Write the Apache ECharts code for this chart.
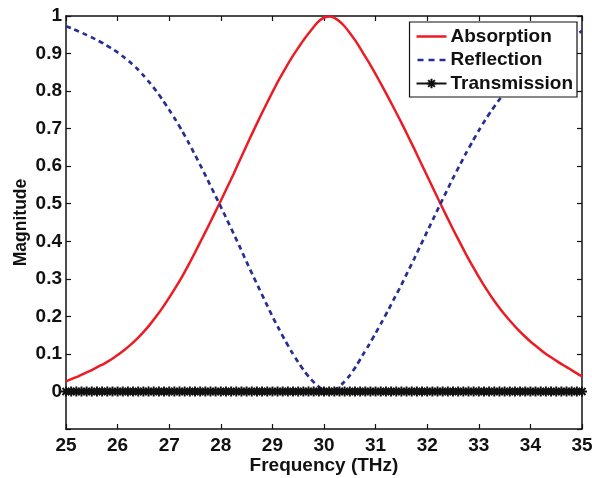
<!DOCTYPE html>
<html>
<head>
<meta charset="utf-8">
<script src="https://cdn.jsdelivr.net/npm/echarts@6/dist/echarts.min.js"></script>
<style>
html,body{margin:0;padding:0;background:#fff;}
#chart{width:592px;height:478px;}
</style>
</head>
<body>
<div id="chart"></div>
<script>
// Frequencies (THz) for absorption / reflection curves
var freqAR = [25.000,25.125,25.250,25.375,25.500,25.625,25.750,25.875,26.000,26.125,26.250,26.375,26.500,26.625,26.750,26.875,27.000,27.125,27.250,27.375,27.500,27.625,27.750,27.875,28.000,28.125,28.250,28.375,28.500,28.625,28.750,28.875,29.000,29.125,29.250,29.375,29.500,29.625,29.750,29.875,30.000,30.125,30.250,30.375,30.500,30.625,30.750,30.875,31.000,31.125,31.250,31.375,31.500,31.625,31.750,31.875,32.000,32.125,32.250,32.375,32.500,32.625,32.750,32.875,33.000,33.125,33.250,33.375,33.500,33.625,33.750,33.875,34.000,34.125,34.250,34.375,34.500,34.625,34.750,34.875,35.000];
var absorption = [0.027,0.034,0.041,0.049,0.057,0.066,0.075,0.085,0.097,0.110,0.124,0.140,0.158,0.178,0.200,0.224,0.250,0.277,0.306,0.337,0.370,0.404,0.438,0.473,0.508,0.544,0.580,0.618,0.655,0.692,0.728,0.763,0.797,0.830,0.860,0.889,0.915,0.940,0.962,0.983,0.996,0.999,0.991,0.976,0.955,0.931,0.903,0.875,0.845,0.814,0.782,0.749,0.716,0.681,0.646,0.610,0.574,0.538,0.502,0.467,0.432,0.399,0.366,0.335,0.305,0.277,0.251,0.227,0.205,0.185,0.166,0.149,0.133,0.119,0.105,0.093,0.082,0.071,0.061,0.050,0.040];
var reflection = [0.973,0.966,0.959,0.951,0.943,0.934,0.925,0.914,0.903,0.890,0.876,0.860,0.842,0.822,0.800,0.776,0.750,0.723,0.694,0.663,0.630,0.597,0.562,0.527,0.492,0.456,0.420,0.383,0.345,0.308,0.272,0.236,0.200,0.167,0.135,0.105,0.078,0.053,0.032,0.015,0.004,0.001,0.008,0.023,0.043,0.068,0.097,0.125,0.155,0.186,0.218,0.251,0.284,0.319,0.354,0.390,0.426,0.462,0.498,0.533,0.568,0.601,0.634,0.665,0.695,0.723,0.749,0.773,0.795,0.815,0.834,0.851,0.867,0.881,0.895,0.907,0.918,0.929,0.939,0.950,0.960];
// Frequencies (THz) for transmission samples
var freqT = [25.0,25.1,25.2,25.3,25.4,25.5,25.6,25.7,25.8,25.9,26.0,26.1,26.2,26.3,26.4,26.5,26.6,26.7,26.8,26.9,27.0,27.1,27.2,27.3,27.4,27.5,27.6,27.7,27.8,27.9,28.0,28.1,28.2,28.3,28.4,28.5,28.6,28.7,28.8,28.9,29.0,29.1,29.2,29.3,29.4,29.5,29.6,29.7,29.8,29.9,30.0,30.1,30.2,30.3,30.4,30.5,30.6,30.7,30.8,30.9,31.0,31.1,31.2,31.3,31.4,31.5,31.6,31.7,31.8,31.9,32.0,32.1,32.2,32.3,32.4,32.5,32.6,32.7,32.8,32.9,33.0,33.1,33.2,33.3,33.4,33.5,33.6,33.7,33.8,33.9,34.0,34.1,34.2,34.3,34.4,34.5,34.6,34.7,34.8,34.9,35.0];
var transmission = [0,0,0,0,0,0,0,0,0,0,0,0,0,0,0,0,0,0,0,0,0,0,0,0,0,0,0,0,0,0,0,0,0,0,0,0,0,0,0,0,0,0,0,0,0,0,0,0,0,0,0,0,0,0,0,0,0,0,0,0,0,0,0,0,0,0,0,0,0,0,0,0,0,0,0,0,0,0,0,0,0,0,0,0,0,0,0,0,0,0,0,0,0,0,0,0,0,0,0,0,0];
var seriesNames = ['Absorption','Reflection','Transmission'];
var xTicks = {min:25, max:35, interval:1};
var yTicks = {min:-0.1, max:1, interval:0.1};

function pairs(xs, ys){ return xs.map(function(x,i){ return [x, ys[i]]; }); }

var FONT = 'Liberation Sans, Arial, Helvetica, sans-serif';
var asterisk = 'path://M5,0L5,10M0,5L10,5M1.5,1.5L8.5,8.5M1.5,8.5L8.5,1.5';
var iconSolid = 'path://M0,0h0.01v0.01h-0.01z M0,4.75h30v2.5h-30z M29.99,11.99h0.01v0.01h-0.01z';
var iconDash = 'path://M0,0h0.01v0.01h-0.01z M1,4.7h6v2.6h-6z M12,4.7h6v2.6h-6z M23,4.7h6v2.6h-6z M29.99,11.99h0.01v0.01h-0.01z';

var chart = echarts.init(document.getElementById('chart'), null, {renderer:'canvas'});
var axisLine = {show:true, onZero:false, lineStyle:{color:'#111', width:1.5}};
var tick = {show:true, inside:true, length:5, lineStyle:{color:'#111', width:1.2}};
var option = {
  backgroundColor:'#fff',
  animation:false,
  grid:{left:66, right:10, top:16, bottom:49, containLabel:false, outerBoundsMode:'none'},
  legend:{
    orient:'vertical', right:15, top:22,
    data:[{name:seriesNames[0], icon:iconSolid},{name:seriesNames[1], icon:iconDash},{name:seriesNames[2]}],
    backgroundColor:'#fff', borderColor:'#111', borderWidth:1.2,
    padding:[5,4,4,6],
    itemWidth:30, itemHeight:12, itemGap:4.5,
    textStyle:{fontFamily:FONT, fontWeight:'bold', fontSize:19, color:'#111', padding:[0,0,0,-1]}
  },
  xAxis:[{
    type:'value', min:xTicks.min, max:xTicks.max, interval:xTicks.interval,
    name:'Frequency (THz)', nameLocation:'middle', nameGap:27, nameMoveOverlap:false,
    nameTextStyle:{fontFamily:FONT, fontWeight:'bold', fontSize:19, color:'#111'},
    axisLine:axisLine, axisTick:tick, splitLine:{show:false},
    axisLabel:{fontFamily:FONT, fontWeight:'bold', fontSize:19, color:'#111', margin:7}
  },{
    type:'value', position:'top', min:xTicks.min, max:xTicks.max, interval:xTicks.interval,
    axisLine:axisLine, axisTick:tick, splitLine:{show:false}, axisLabel:{show:false}
  }],
  yAxis:[{
    type:'value', min:yTicks.min, max:yTicks.max, interval:yTicks.interval,
    name:'Magnitude', nameLocation:'middle', nameGap:36, nameMoveOverlap:false,
    nameTextStyle:{fontFamily:FONT, fontWeight:'bold', fontSize:17.5, color:'#111'},
    axisLine:axisLine, axisTick:tick, splitLine:{show:false},
    axisLabel:{fontFamily:FONT, fontWeight:'bold', fontSize:19, color:'#111', margin:4,
      formatter:function(v){ return v < -1e-9 ? '' : String(Math.round(v*10)/10); }}
  },{
    type:'value', position:'right', min:yTicks.min, max:yTicks.max, interval:yTicks.interval,
    axisLine:axisLine, axisTick:tick, splitLine:{show:false}, axisLabel:{show:false}
  }],
  series:[{
    name:seriesNames[0], type:'line', data:pairs(freqAR, absorption),
    smooth:0.25, showSymbol:false, symbol:'none',
    lineStyle:{color:'#ec1c24', width:2.5}, itemStyle:{color:'#ec1c24'}
  },{
    name:seriesNames[1], type:'line', data:pairs(freqAR, reflection),
    smooth:0.25, showSymbol:false, symbol:'none',
    lineStyle:{color:'#262f8f', width:2.7, type:[5,4]}, itemStyle:{color:'#262f8f'}
  },{
    name:seriesNames[2], type:'line', data:pairs(freqT, transmission),
    symbol:asterisk, symbolSize:10, showSymbol:true,
    lineStyle:{color:'#111', width:1.5},
    itemStyle:{color:'#111', borderColor:'#111', borderWidth:2}
  }]
};
chart.setOption(option);
</script>
</body>
</html>
